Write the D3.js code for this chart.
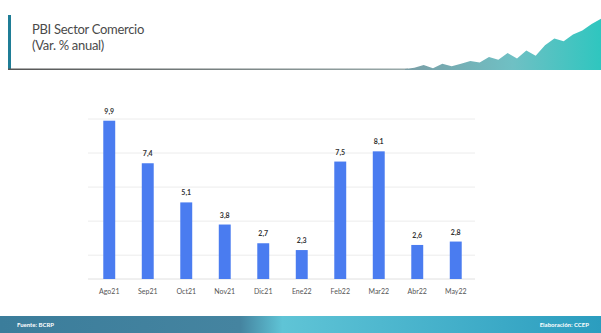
<!DOCTYPE html>
<html>
<head>
<meta charset="utf-8">
<script src="https://cdn.jsdelivr.net/npm/d3@7"></script>
<style>
  body { margin: 0; background: #fff; }
  svg { display: block; font-family: Lato, "Open Sans", sans-serif; }
</style>
</head>
<body>
<svg id="chart" width="601" height="333"></svg>
<script>
// Chart data
const months = ["Ago21", "Sep21", "Oct21", "Nov21", "Dic21", "Ene22", "Feb22", "Mar22", "Abr22", "May22"];
const values = [9.9, 7.4, 5.1, 3.8, 2.7, 2.3, 7.5, 8.1, 2.6, 2.8];
const gridTicks = [2, 4, 6, 8, 10];

// Decorative mountain in the header (relative heights)
const decor = [0, 1, 3, 0.5, 4, 2, 4, 6, 5, 9, 7, 12, 8, 14, 10, 18, 23, 21, 26, 29, 34, 38];

const width = 601, height = 333;
const svg = d3.select("#chart");
const defs = svg.append("defs");

// ---- Header ----
svg.append("rect")
  .attr("x", 8).attr("y", 15).attr("width", 3).attr("height", 55)
  .attr("fill", "#1f7d96");

const lineGrad = defs.append("linearGradient").attr("id", "hline");
lineGrad.append("stop").attr("offset", "0%").attr("stop-color", "#555");
lineGrad.append("stop").attr("offset", "100%").attr("stop-color", "#9aa");
svg.append("rect")
  .attr("x", 8).attr("y", 68.5).attr("width", 400).attr("height", 1.5)
  .attr("fill", "url(#hline)");

svg.append("text")
  .attr("x", 32).attr("y", 34)
  .attr("font-size", 13).attr("fill", "#4a4a4a")
  .style("letter-spacing", "-0.3px")
  .text("PBI Sector Comercio");
svg.append("text")
  .attr("x", 32).attr("y", 50)
  .attr("font-size", 13).attr("fill", "#4a4a4a")
  .style("letter-spacing", "-0.3px")
  .text("(Var. % anual)");

const mtGrad = defs.append("linearGradient").attr("id", "mt");
mtGrad.append("stop").attr("offset", "0%").attr("stop-color", "#7a9ea6");
mtGrad.append("stop").attr("offset", "55%").attr("stop-color", "#6fc0c4");
mtGrad.append("stop").attr("offset", "100%").attr("stop-color", "#2fc6bf");

const mx = d3.scaleLinear().domain([0, decor.length - 1]).range([405, 601]);
const my = d3.scaleLinear().domain([0, 40]).range([69, 16]);
svg.append("path")
  .datum(decor)
  .attr("d", d3.area().x((d, i) => mx(i)).y0(70).y1(d => my(d)))
  .attr("fill", "url(#mt)");

// ---- Bar chart ----
const x = d3.scaleBand()
  .domain(months)
  .range([90, 475])
  .paddingInner(0.69)
  .paddingOuter(0.345);

const y = d3.scaleLinear()
  .domain([0.6, 10])
  .range([279, 119]);

svg.append("g")
  .selectAll("line")
  .data(gridTicks)
  .join("line")
    .attr("x1", 88).attr("x2", 475)
    .attr("y1", d => y(d)).attr("y2", d => y(d))
    .attr("stroke", "#ececec").attr("stroke-width", 1);

svg.append("line")
  .attr("x1", 88).attr("x2", 475)
  .attr("y1", y(0.6)).attr("y2", y(0.6))
  .attr("stroke", "#e0e0e0");

svg.append("g")
  .selectAll("rect")
  .data(values)
  .join("rect")
    .attr("x", (d, i) => x(months[i]))
    .attr("y", d => y(d))
    .attr("width", x.bandwidth())
    .attr("height", d => y(0.6) - y(d))
    .attr("fill", "#4a7cf0");

svg.append("g")
  .selectAll("text")
  .data(values)
  .join("text")
    .attr("x", (d, i) => x(months[i]) + x.bandwidth() / 2)
    .attr("y", d => y(d) - 7)
    .attr("text-anchor", "middle")
    .attr("font-size", 7).attr("font-weight", "bold").attr("fill", "#333")
    .text(d => d3.format(".1f")(d).replace(".", ","));

const xAxis = d3.axisBottom(x).tickSize(0).tickPadding(10);
svg.append("g")
  .attr("transform", `translate(0,${y(0.6)})`)
  .call(xAxis)
  .call(g => g.select(".domain").remove())
  .call(g => g.selectAll("text")
    .attr("font-size", 7).attr("fill", "#555")
    .attr("font-family", "Lato, 'Open Sans', sans-serif"));

// ---- Footer ----
const ftGrad = defs.append("linearGradient").attr("id", "ft");
ftGrad.append("stop").attr("offset", "0%").attr("stop-color", "#3b7d9b");
ftGrad.append("stop").attr("offset", "40%").attr("stop-color", "#4584a0");
ftGrad.append("stop").attr("offset", "47%").attr("stop-color", "#5fc4d6");
ftGrad.append("stop").attr("offset", "100%").attr("stop-color", "#2b9dbf");
svg.append("rect")
  .attr("x", 0).attr("y", 316).attr("width", width).attr("height", 17)
  .attr("fill", "url(#ft)");

svg.append("text")
  .attr("x", 17).attr("y", 327)
  .attr("font-size", 6).attr("font-weight", "bold").attr("fill", "#fff")
  .text("Fuente: BCRP");
svg.append("text")
  .attr("x", 589).attr("y", 327)
  .attr("text-anchor", "end")
  .attr("font-size", 6).attr("font-weight", "bold").attr("fill", "#fff")
  .text("Elaboración: CCEP");
</script>
</body>
</html>
